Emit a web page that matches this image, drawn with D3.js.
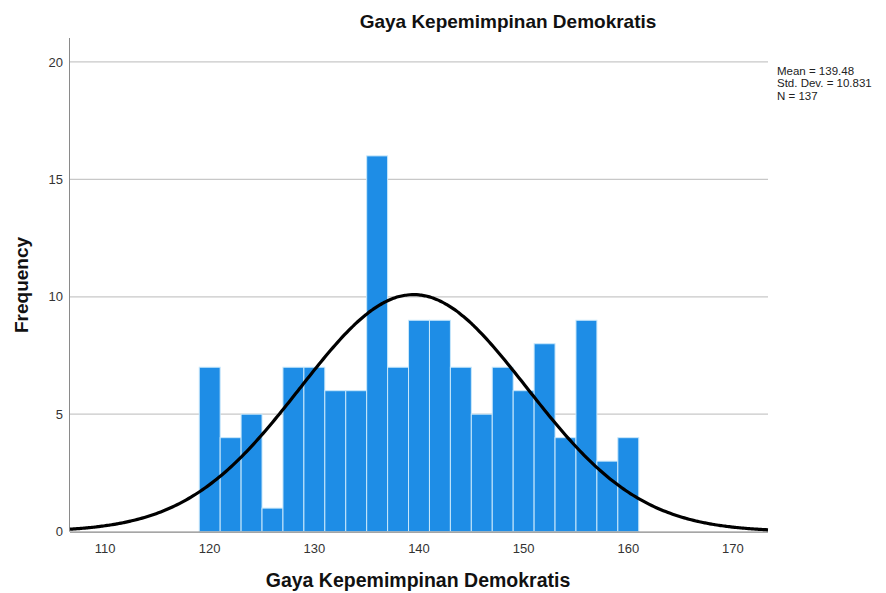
<!DOCTYPE html>
<html>
<head>
<meta charset="utf-8">
<script src="https://cdn.jsdelivr.net/npm/d3@7"></script>
<style>
  html, body { margin: 0; padding: 0; background: #fff; }
  svg { display: block; font-family: "Liberation Sans", Arial, sans-serif; }
</style>
</head>
<body>
<svg id="chart" width="886" height="593"></svg>
<script>
// ---- data ----
const binStarts = [119,121,123,125,127,129,131,133,135,137,139,141,143,145,147,149,151,153,155,157,159];
const counts    = [7,4,5,1,7,7,6,6,16,7,9,9,7,5,7,6,8,4,9,3,4];
const binWidth = 2;
const xTicks = [110,120,130,140,150,160,170];
const yTicks = [0,5,10,15,20];
const statsMean = 139.48;
const statsSD = 10.831;
const statsN = 137;
const title = "Gaya Kepemimpinan Demokratis";
const xLabel = "Gaya Kepemimpinan Demokratis";
const yLabel = "Frequency";
const statLines = ["Mean = 139.48", "Std. Dev. = 10.831", "N = 137"];

// ---- layout ----
const svg = d3.select("#chart");
const L = 70, R = 768, T = 38, B = 531.6;

const x = d3.scaleLinear().domain([106.65, 173.35]).range([L, R]);
const y = d3.scaleLinear().domain([0, 21.02]).range([B, T]);

// gridlines
svg.append("g").selectAll("line")
  .data(yTicks.filter(d => d > 0))
  .join("line")
  .attr("x1", L).attr("x2", R)
  .attr("y1", d => y(d)).attr("y2", d => y(d))
  .attr("stroke", "#c8c8c8").attr("stroke-width", 1.2);

// bars
svg.append("g").selectAll("rect")
  .data(binStarts.map((s, i) => ({s, c: counts[i]})))
  .join("rect")
  .attr("x", d => x(d.s))
  .attr("width", d => x(d.s + binWidth) - x(d.s))
  .attr("y", d => y(d.c))
  .attr("height", d => B - y(d.c))
  .attr("fill", "#1e8de6")
  .attr("stroke", "#c9e8fb")
  .attr("stroke-width", 1);

// axes lines
svg.append("line").attr("x1", L - 0.5).attr("x2", L - 0.5).attr("y1", T).attr("y2", B)
  .attr("stroke", "#8a8a8a").attr("stroke-width", 1);
svg.append("line").attr("x1", L).attr("x2", R).attr("y1", B + 0.5).attr("y2", B + 0.5)
  .attr("stroke", "#6a6a6a").attr("stroke-width", 1);

// y tick labels
svg.append("g").selectAll("text")
  .data(yTicks).join("text")
  .attr("x", 63).attr("y", d => y(d)).attr("dy", "0.35em")
  .attr("text-anchor", "end").attr("font-size", 13).attr("fill", "#333")
  .text(d => d);

// x tick labels
svg.append("g").selectAll("text")
  .data(xTicks).join("text")
  .attr("x", d => x(d)).attr("y", 553)
  .attr("text-anchor", "middle").attr("font-size", 13).attr("fill", "#333")
  .text(d => d);

// normal curve (derived from mean, sd, N)
const pdf = v => statsN * binWidth / (statsSD * Math.sqrt(2 * Math.PI)) *
  Math.exp(-0.5 * Math.pow((v - statsMean) / statsSD, 2));
const xs = d3.range(0, 301).map(i => x.domain()[0] + (x.domain()[1] - x.domain()[0]) * i / 300);
svg.append("path")
  .datum(xs)
  .attr("d", d3.line().x(d => x(d)).y(d => y(pdf(d))).curve(d3.curveBasis))
  .attr("fill", "none").attr("stroke", "#000").attr("stroke-width", 3.2);

// title
svg.append("text").attr("x", 508).attr("y", 28)
  .attr("text-anchor", "middle").attr("font-size", 19).attr("font-weight", "bold").attr("fill", "#111")
  .text(title);

// x label
svg.append("text").attr("x", 418).attr("y", 587)
  .attr("text-anchor", "middle").attr("font-size", 19.5).attr("font-weight", "bold").attr("fill", "#111")
  .text(xLabel);

// y label
svg.append("text").attr("transform", "translate(28,285) rotate(-90)")
  .attr("text-anchor", "middle").attr("font-size", 19).attr("font-weight", "bold").attr("fill", "#111")
  .text(yLabel);

// stats
svg.append("g").selectAll("text")
  .data(statLines).join("text")
  .attr("x", 777).attr("y", (d, i) => 74.5 + i * 12.5)
  .attr("font-size", 11.5).attr("fill", "#222")
  .text(d => d);
</script>
</body>
</html>
